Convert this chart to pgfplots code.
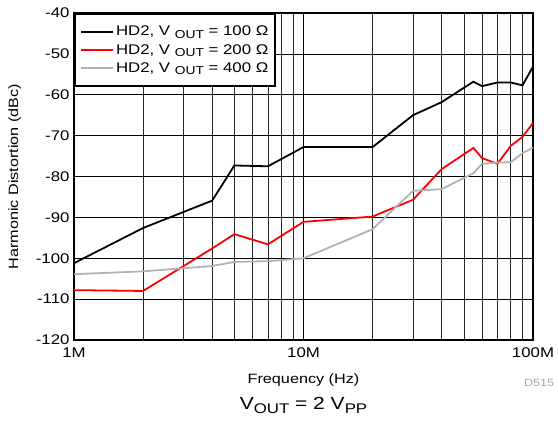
\documentclass[border=0pt]{standalone}
\usepackage{pgfplots}
\pgfplotsset{compat=1.18}
\usepackage{fontspec}
\setmainfont[FakeStretch=1.2]{Liberation Sans}
\newcommand\sub[1]{\raisebox{-0.35ex}{\fontsize{11.5}{11.5}\selectfont #1}}
\begin{document}
\begin{tikzpicture}[x=1pt,y=1pt]
\begin{axis}[
    scale only axis,
    width=459pt, height=327pt,
    xmode=log,
    xmin=1e6, xmax=1e8,
    ymin=-120, ymax=-40,
    xtick={1e6,1e7,1e8},
    xticklabels={1M,10M,100M},
    ytick={-120,-110,...,-40},
    minor xtick={2e6,3e6,4e6,5e6,6e6,7e6,8e6,9e6,2e7,3e7,4e7,5e7,6e7,7e7,8e7,9e7},
    grid=both,
    major grid style={black, line width=0.7pt},
    minor grid style={black!85, line width=0.7pt},
    major tick length=0pt, minor tick length=0pt,
    axis line style={line width=2.2pt},
    tick label style={font=\fontsize{14}{16}\selectfont},
    xticklabel style={yshift=-4pt},
    yticklabel style={xshift=-1pt},
    /pgf/number format/assume math mode=true,
    xlabel={Frequency (Hz)},
    ylabel={Harmonic Distortion (dBc)},
    label style={font=\fontsize{13.5}{15}\selectfont},
    xlabel style={yshift=-9pt},
    ylabel style={yshift=8pt},
    clip=false,
    legend style={at={(rel axis cs:0,1)}, anchor=north west,
        draw=black, line width=2pt, fill=white,
        font=\fontsize{14}{16}\selectfont,
        inner xsep=5pt, inner ysep=10pt, row sep=3pt,
        legend cell align=left},
    legend image code/.code={\draw[#1, line width=2pt] (0pt,0pt) -- (32pt,0pt);},
]
\addplot[black, line width=1.8pt] coordinates {
    (1e6,-101.2) (2e6,-92.6) (4e6,-85.9) (5e6,-77.3) (7e6,-77.5)
    (1e7,-72.8) (2e7,-72.8) (3e7,-65.0) (4e7,-61.8) (5.5e7,-56.8)
    (6e7,-57.9) (7e7,-57.0) (8e7,-57.0) (9e7,-57.7) (1e8,-53.1)
};
\addplot[red, line width=1.8pt] coordinates {
    (1e6,-107.8) (2e6,-108.0) (4e6,-97.6) (5e6,-94.1) (7e6,-96.6)
    (1e7,-91.1) (2e7,-89.8) (3e7,-85.7) (4e7,-78.2) (5.5e7,-73.0)
    (6e7,-75.5) (7e7,-76.9) (8e7,-72.5) (9e7,-70.3) (1e8,-66.9)
};
\addplot[black!30, line width=1.8pt] coordinates {
    (1e6,-103.9) (2e6,-103.2) (4e6,-101.9) (5e6,-100.9) (7e6,-100.7)
    (1e7,-100.0) (2e7,-92.9) (3e7,-83.5) (4e7,-83.1) (5.5e7,-79.2)
    (6e7,-76.9) (7e7,-76.6) (8e7,-76.5) (9e7,-74.3) (1e8,-72.9)
};
\legend{{HD2, V \sub{OUT} = 100 Ω},{HD2, V \sub{OUT} = 200 Ω},{HD2, V \sub{OUT} = 400 Ω}}
\node[anchor=east, text=black!35, font=\fontsize{10.5}{12}\selectfont] at (rel axis cs:1.054,-0.13) {D515};
\node[font=\fontsize{17.5}{19}\selectfont] at (rel axis cs:0.5,-0.2) {V\raisebox{-0.35ex}{\fontsize{14}{14}\selectfont OUT} = 2 V\raisebox{-0.35ex}{\fontsize{14}{14}\selectfont PP}};
\path (rel axis cs:-0.1612,-0.2691) rectangle (rel axis cs:1.0545,1.0398);
\end{axis}
\end{tikzpicture}
\end{document}
